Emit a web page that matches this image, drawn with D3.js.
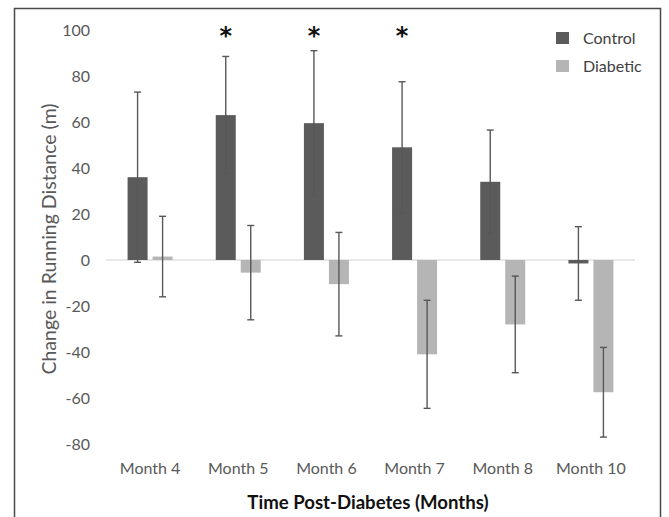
<!DOCTYPE html>
<html>
<head>
<meta charset="utf-8">
<script src="https://cdn.jsdelivr.net/npm/d3@7"></script>
<style>
  body { margin: 0; background: #fff; }
  text { font-family: Lato, "Open Sans", sans-serif; }
</style>
</head>
<body>
<div id="chart"></div>
<script>
// chart data
var months = ["Month 4", "Month 5", "Month 6", "Month 7", "Month 8", "Month 10"];
var controlMean = [36, 63, 59.5, 49, 34, -1.5];
var controlErr = [37, 25.5, 31.5, 28.5, 22.5, 16];
var diabeticMean = [1.5, -5.5, -10.5, -41, -28, -57.5];
var diabeticErr = [17.5, 20.5, 22.5, 23.5, 21, 19.5];
var significant = [false, true, true, true, false, false];
var yTicks = [-80, -60, -40, -20, 0, 20, 40, 60, 80, 100];
var seriesNames = ["Control", "Diabetic"];
var seriesColors = ["#5b5b5b", "#b5b5b5"];

var W = 669, H = 517;
var svg = d3.select("#chart").append("svg")
  .attr("width", W).attr("height", H);

// frame round the figure
svg.append("rect")
  .attr("x", 14.5).attr("y", 8.5)
  .attr("width", 646).attr("height", 530)
  .attr("fill", "none").attr("stroke", "#4a4a4a").attr("stroke-width", 1.5);

var x = d3.scaleBand().domain(months).range([106, 635]);
var y = d3.scaleLinear().domain([-80, 100]).range([444, 30]);

var barW = 20, gap = 5;
var offsets = [-(barW + gap / 2), gap / 2];

// y tick labels (no axis line in the original)
var yAxis = d3.axisLeft(y).tickValues(yTicks).tickSize(0).tickPadding(0)
  .tickFormat(function(d) { return String(d); });
var gy = svg.append("g").attr("transform", "translate(90,0)").call(yAxis);
gy.select(".domain").remove();
gy.selectAll("text")
  .attr("font-size", 16).attr("fill", "#595959")
  .style("font-family", "Lato, sans-serif");

// zero line
svg.append("line")
  .attr("x1", 106).attr("x2", 635)
  .attr("y1", y(0)).attr("y2", y(0))
  .attr("stroke", "#d0d0d0").attr("stroke-width", 1);

var series = [
  { name: seriesNames[0], mean: controlMean, err: controlErr, color: seriesColors[0] },
  { name: seriesNames[1], mean: diabeticMean, err: diabeticErr, color: seriesColors[1] }
];

series.forEach(function(s, si) {
  var g = svg.append("g");
  g.selectAll("rect").data(months).enter().append("rect")
    .attr("x", function(d) { return x(d) + x.bandwidth() / 2 + offsets[si]; })
    .attr("y", function(d, i) { return Math.min(y(s.mean[i]), y(0)); })
    .attr("width", barW)
    .attr("height", function(d, i) { return Math.abs(y(s.mean[i]) - y(0)); })
    .attr("fill", s.color);

  // error bars
  var eb = svg.append("g").attr("stroke", "#585858").attr("stroke-width", 1.4);
  months.forEach(function(m, i) {
    var cx = x(m) + x.bandwidth() / 2 + offsets[si] + barW / 2;
    var top = y(s.mean[i] + s.err[i]), bot = y(s.mean[i] - s.err[i]);
    eb.append("line").attr("x1", cx).attr("x2", cx).attr("y1", top).attr("y2", bot);
    eb.append("line").attr("x1", cx - 3.5).attr("x2", cx + 3.5).attr("y1", top).attr("y2", top);
    eb.append("line").attr("x1", cx - 3.5).attr("x2", cx + 3.5).attr("y1", bot).attr("y2", bot);
  });
});

// significance asterisks
svg.selectAll(".star").data(months.filter(function(d, i) { return significant[i]; }))
  .enter().append("text")
  .attr("x", function(d) { return x(d) + x.bandwidth() / 2 + offsets[0] + barW / 2; })
  .attr("y", 44)
  .attr("text-anchor", "middle")
  .attr("font-size", 24).attr("font-weight", "bold").attr("fill", "#111")
  .style("font-family", "'DejaVu Sans', sans-serif")
  .text("*");

// x labels
svg.selectAll(".xlab").data(months).enter().append("text")
  .attr("x", function(d) { return x(d) + x.bandwidth() / 2; })
  .attr("y", 474)
  .attr("text-anchor", "middle")
  .attr("font-size", 16).attr("fill", "#595959")
  .text(function(d) { return d; });

// axis titles
svg.append("text")
  .attr("x", 368).attr("y", 509)
  .attr("text-anchor", "middle")
  .attr("font-size", 18.6).attr("font-weight", "bold").attr("fill", "#111")
  .text("Time Post-Diabetes (Months)");

svg.append("text")
  .attr("transform", "translate(56,239) rotate(-90)")
  .attr("text-anchor", "middle")
  .attr("font-size", 19.5).attr("fill", "#595959")
  .text("Change in Running Distance (m)");

// legend
var leg = svg.append("g");
series.forEach(function(s, i) {
  leg.append("rect").attr("x", 556).attr("y", 32 + i * 28)
    .attr("width", 13).attr("height", 12).attr("fill", s.color);
  leg.append("text").attr("x", 583).attr("y", 44 + i * 28)
    .attr("font-size", 16).attr("fill", "#404040").text(s.name);
});
</script>
</body>
</html>
